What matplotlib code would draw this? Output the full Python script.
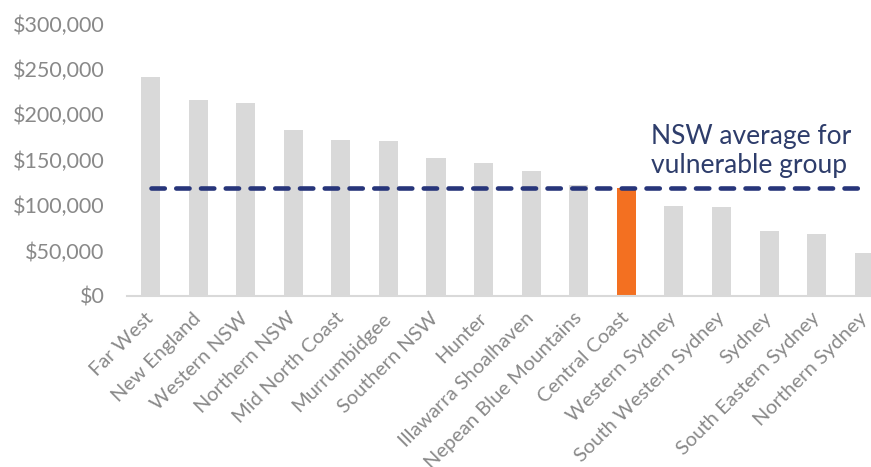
import matplotlib
matplotlib.use("Agg")
import matplotlib.pyplot as plt
import numpy as np

plt.rcParams["font.family"] = ["Lato", "DejaVu Sans"]

regions = [
    "Far West", "New England", "Western NSW", "Northern NSW", "Mid North Coast",
    "Murrumbidgee", "Southern NSW", "Hunter", "Illawarra Shoalhaven",
    "Nepean Blue Mountains", "Central Coast", "Western Sydney",
    "South Western Sydney", "Sydney", "South Eastern Sydney", "Northern Sydney",
]
values = [241000, 216000, 213000, 183000, 172000, 171000, 152000, 146500,
          138000, 122500, 119000, 99500, 98500, 71500, 68500, 47500]
nsw_average = 119000
highlight = "Central Coast"
y_ticks = [0, 50000, 100000, 150000, 200000, 250000, 300000]

GREY = "#D9D9D9"
ORANGE = "#F37021"
NAVY = "#27357A"
TEXT = "#898989"

fig = plt.figure(figsize=(8.71, 4.67), dpi=100)
ax = fig.add_axes([0.1455, 0.3662, 0.874, 0.5835])

x = np.arange(len(regions))
colors = [ORANGE if r == highlight else GREY for r in regions]
ax.bar(x, values, width=0.4, color=colors, zorder=2)

ax.plot(x, [nsw_average] * len(x), color=NAVY, lw=3.3,
        linestyle=(0, (2.9, 2.5)), dash_capstyle="round", zorder=3)

ax.text(10.52, 160000, "NSW average for\nvulnerable group", color="#2E3D6B",
        fontsize=19, ha="left", va="center", linespacing=1.2)

ax.set_xlim(-0.5, len(regions) - 0.5)
ax.set_ylim(0, 300000)
ax.set_yticks(y_ticks)
ax.set_yticklabels([f"${v:,.0f}" for v in y_ticks])
ax.set_xticks(x)
ax.set_xticklabels(regions, rotation=45, ha="right", va="center",
                   rotation_mode="anchor")

ax.tick_params(axis="y", length=0, pad=16, labelsize=15.5, labelcolor=TEXT)
ax.tick_params(axis="x", length=0, pad=14, labelsize=14.5, labelcolor=TEXT)

for side in ["top", "right", "left"]:
    ax.spines[side].set_visible(False)
ax.spines["bottom"].set_color(GREY)
ax.spines["bottom"].set_linewidth(1.5)

fig.savefig("out.png", dpi=100)
